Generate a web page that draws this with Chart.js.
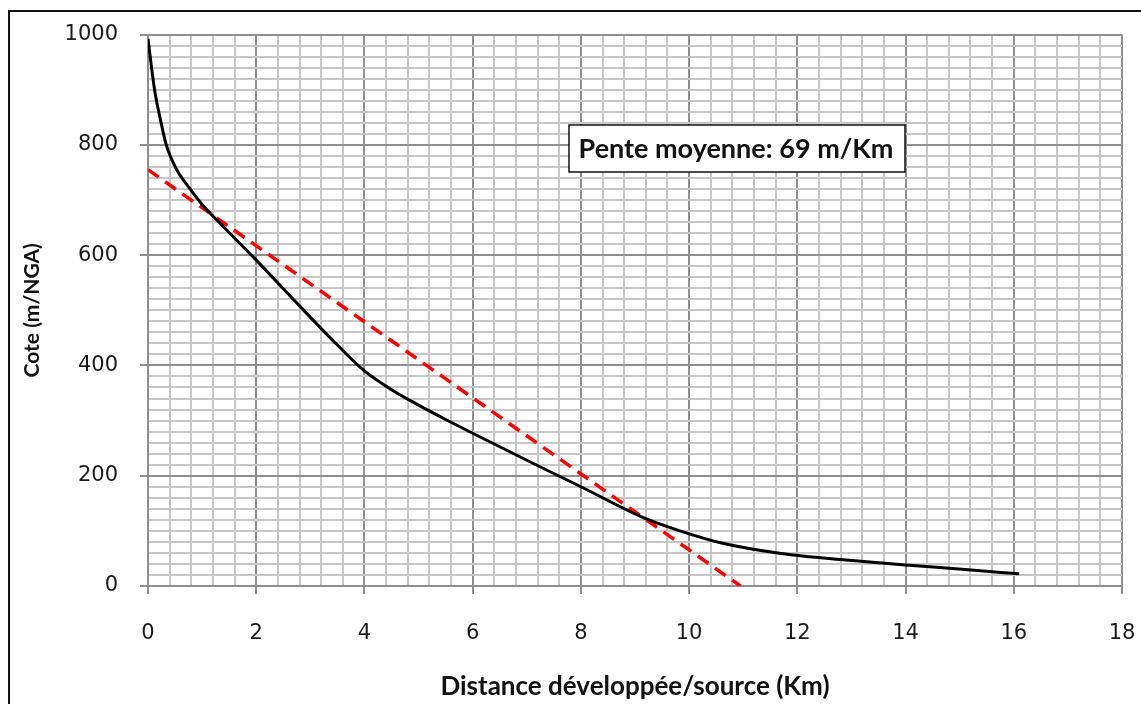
<!DOCTYPE html>
<html>
<head>
<meta charset="utf-8">
<script src="https://cdn.jsdelivr.net/npm/chart.js@4/dist/chart.umd.min.js"></script>
<style>
html,body{margin:0;padding:0;background:#fff;}
#wrap{width:1141px;height:704px;position:relative;overflow:hidden;}
</style>
</head>
<body>
<div id="wrap"><canvas id="c" width="1141" height="704"></canvas></div>
<script>
// ---- data ----
const distance = [0, 0.12, 0.24, 0.34, 0.52, 0.77, 1.0, 1.3, 2.0, 2.8, 3.5, 4.0, 4.5, 5.0, 5.5, 6.0, 7.0, 8.0, 9.2, 9.8, 10.6, 11.7, 12.9, 14.0, 15.1, 16.1];
const cote = [992, 901, 841, 799, 757, 721, 692, 661, 591, 508, 437, 390, 356, 328, 302, 277, 228, 180, 122, 101, 78, 59, 47, 38, 30, 22];
const trendDistance = [0, 10.95];
const trendCote = [755, 0];
const xTickLabels = [0, 2, 4, 6, 8, 10, 12, 14, 16, 18];
const yTickLabels = [0, 200, 400, 600, 800, 1000];
const xTitle = 'Distance développée/source (Km)';
const yTitle = 'Cote (m/NGA)';
const noteText = 'Pente moyenne: 69 m/Km';

const profile = distance.map((d, i) => ({x: d, y: cote[i]}));
const trend = trendDistance.map((d, i) => ({x: d, y: trendCote[i]}));

const isLabel = (v, list) => list.some(t => Math.abs(t - v) < 1e-6);
const majorColor = '#8e8e8e';
const minorColor = '#c6c6c6';

const framePlugin = {
  id: 'frame',
  beforeDraw(chart) {
    const ctx = chart.ctx;
    ctx.save();
    ctx.fillStyle = '#fff';
    ctx.fillRect(0, 0, chart.width, chart.height);
    ctx.strokeStyle = '#111';
    ctx.lineWidth = 2;
    ctx.beginPath();
    ctx.moveTo(9, chart.height + 5);
    ctx.lineTo(9, 11);
    ctx.lineTo(chart.width + 5, 11);
    ctx.stroke();
    ctx.restore();
  }
};

const notePlugin = {
  id: 'note',
  afterDatasetsDraw(chart) {
    const ctx = chart.ctx;
    const x0 = 569, y0 = 125, w = 336, h = 47;
    ctx.save();
    ctx.fillStyle = '#fff';
    ctx.fillRect(x0, y0, w, h);
    ctx.strokeStyle = '#111';
    ctx.lineWidth = 1.5;
    ctx.strokeRect(x0, y0, w, h);
    ctx.fillStyle = '#111';
    ctx.font = 'bold 27px Lato';
    ctx.textAlign = 'center';
    ctx.textBaseline = 'middle';
    ctx.fillText(noteText, x0 + w / 2 - 1, y0 + h / 2 + 1);
    ctx.restore();
  }
};

new Chart(document.getElementById('c'), {
  type: 'scatter',
  data: {
    datasets: [
      {
        data: profile,
        showLine: true,
        borderColor: '#000',
        borderWidth: 3,
        pointRadius: 0,
        cubicInterpolationMode: 'monotone',
        fill: false
      },
      {
        data: trend,
        showLine: true,
        borderColor: '#ff0000',
        borderWidth: 3.5,
        borderDash: [13, 8],
        pointRadius: 0,
        fill: false
      }
    ]
  },
  options: {
    responsive: false,
    animation: false,
    devicePixelRatio: 1,
    layout: {padding: {left: 0, top: 32, right: 0, bottom: 0}},
    plugins: {legend: {display: false}, tooltip: {enabled: false}},
    scales: {
      x: {
        type: 'linear',
        min: 0, max: 18,
        afterFit: s => { s.height = 118; s.paddingRight = 19; s.paddingLeft = 0; },
        ticks: {
          stepSize: 0.4,
          autoSkip: false,
          maxRotation: 0,
          padding: 27,
          color: '#1a1a1a',
          font: {family: 'DejaVu Sans', size: 21},
          callback: v => isLabel(v, xTickLabels) ? String(Math.round(v)) : ''
        },
        grid: {
          drawTicks: true,
          tickLength: 8,
          lineWidth: 2,
          color: c => isLabel(c.tick.value, xTickLabels) ? majorColor : minorColor,
          tickColor: c => isLabel(c.tick.value, xTickLabels) ? majorColor : 'rgba(0,0,0,0)'
        },
        border: {color: majorColor, width: 2},
        title: {
          display: true,
          text: xTitle,
          color: '#111',
          font: {family: 'Lato', size: 26, weight: 'bold'},
          padding: {top: 0, bottom: 2}
        }
      },
      y: {
        type: 'linear',
        min: 0, max: 1000,
        afterFit: s => { s.width = 148; },
        ticks: {
          stepSize: 20,
          autoSkip: false,
          padding: 22,
          color: '#1a1a1a',
          font: {family: 'DejaVu Sans', size: 21},
          callback: v => isLabel(v, yTickLabels) ? String(Math.round(v)) : ''
        },
        grid: {
          drawTicks: true,
          tickLength: 8,
          lineWidth: 2,
          color: c => isLabel(c.tick.value, yTickLabels) ? majorColor : minorColor,
          tickColor: c => isLabel(c.tick.value, yTickLabels) ? majorColor : 'rgba(0,0,0,0)'
        },
        border: {color: majorColor, width: 2},
        title: {
          display: true,
          text: yTitle,
          color: '#111',
          font: {family: 'Lato', size: 21, weight: 'bold'},
          padding: {top: 20, bottom: 0}
        }
      }
    }
  },
  plugins: [framePlugin, notePlugin]
});
</script>
</body>
</html>
